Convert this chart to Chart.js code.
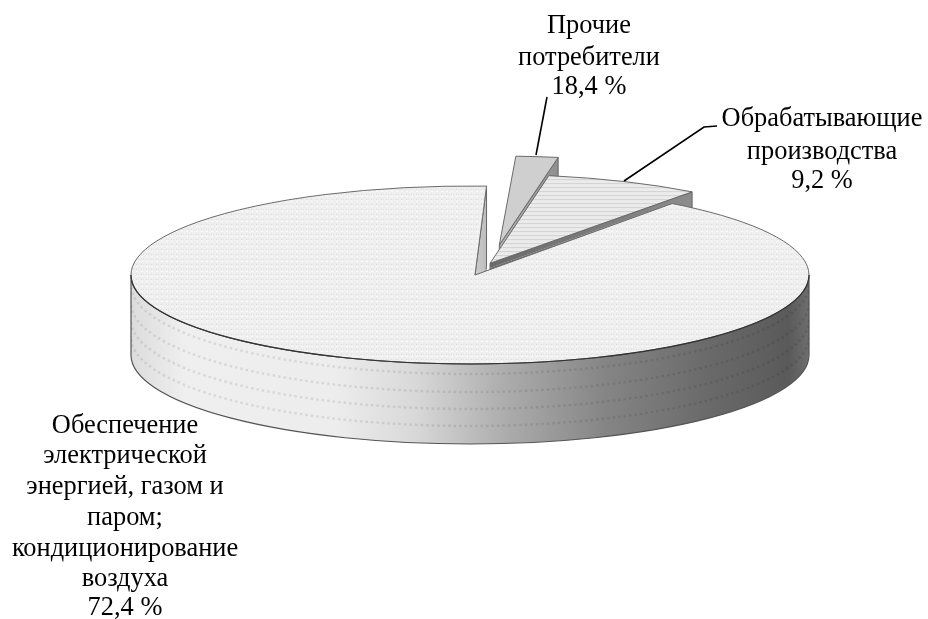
<!DOCTYPE html>
<html><head><meta charset="utf-8">
<style>html,body{margin:0;padding:0;background:#fff}#box{width:928px;height:619px;position:relative}</style>
<script src="https://cdn.jsdelivr.net/npm/chart.js@4"></script>
</head><body><div id="box"><canvas id="c" width="928" height="619"></canvas></div>
<script>
// Category names, and the percentages printed on the reference.
const categories = ['Обеспечение электрической энергией, газом и паром; кондиционирование воздуха', 'Прочие потребители', 'Обрабатывающие производства'];
const printedPercent = [72.4, 18.4, 9.2];
// The reference's wedges are not proportional to its printed numbers,
// so the wedge sizes are read separately off the picture (share of the full circle).
const drawnShare = [90.61, 2.0, 7.39];
const labelLines = [
  ['Обеспечение', 'электрической', 'энергией, газом и', 'паром;', 'кондиционирование', 'воздуха'],
  ['Прочие', 'потребители'],
  ['Обрабатывающие', 'производства']
];

const TILT = 0.2625, DEPTH = 80, RADIUS = 339, FIRST_ANGLE = 36.6, APEX_NUDGE = 5;
const EXPLODE = [[0, 0], [29.3, -114], [20, -44.6]];      // in un-tilted pixels
const PAINT_ORDER = [1, 2, 0];
const LABEL_POS = [
  {x: 125, ys: [426, 456, 487, 518, 549, 579, 608]},
  {x: 589, ys: [26, 58, 87]},
  {x: 822, ys: [119, 152, 181]}
];
const LEADERS = [[[547, 97], [536, 155]], [[717, 126], [704, 127], [624, 181]]];

function tile(w, h, paint) {
  const t = document.createElement('canvas'); t.width = w; t.height = h;
  const g = t.getContext('2d'); paint(g);
  const p = g.createPattern(t, 'repeat');
  p.setTransform(new DOMMatrix().scale(1, 1 / TILT));
  return p;
}
const ctx0 = document.getElementById('c').getContext('2d');
const dotted = tile(5, 5, g => {
  g.fillStyle = '#efefef'; g.fillRect(0, 0, 5, 5);
  g.fillStyle = '#d8d8d8'; g.fillRect(1, 1, 1, 1);
  g.fillStyle = '#e2e2e2'; g.fillRect(3, 1, 1, 1);
  g.fillStyle = '#fcfcfc'; g.fillRect(1, 3, 2, 1);
});
const striped = tile(4, 4, g => {
  g.fillStyle = '#ebebeb'; g.fillRect(0, 0, 4, 4);
  g.fillStyle = '#d2d2d2'; g.fillRect(0, 0, 4, 1);
});

const pseudo3d = {
  id: 'pseudo3d',
  beforeDatasetDraw(chart, args) {
    const ctx = chart.ctx, arcs = chart.getDatasetMeta(args.index).data;
    const wallFill = [
      ['#d2d2d2', '#bdbdbd'], ['#b4b4b4', '#8f8f8f'], ['#6a6a6a', '#8c8c8c']
    ];
    PAINT_ORDER.forEach(i => {
      const el = arcs[i], r = el.outerRadius;
      const nudge = i === 0 ? APEX_NUDGE : 0;
      const cx = el.x + EXPLODE[i][0], cy = el.y + EXPLODE[i][1] * TILT;
      const ex = cx + Math.cos(el.endAngle) * r, ey = cy + Math.sin(el.endAngle) * r * TILT;
      const sx = cx + Math.cos(el.startAngle) * r, sy = cy + Math.sin(el.startAngle) * r * TILT;
      // cut wall along the end edge
      const wg = ctx.createLinearGradient(cx, 0, ex, 0);
      wg.addColorStop(0, wallFill[i][0]); wg.addColorStop(1, wallFill[i][1]);
      ctx.beginPath();
      ctx.moveTo(cx + nudge, cy); ctx.lineTo(ex, ey); ctx.lineTo(ex, ey + DEPTH); ctx.lineTo(cx + nudge, cy + DEPTH); ctx.closePath();
      ctx.fillStyle = wg; ctx.fill();
      ctx.strokeStyle = '#666'; ctx.lineWidth = 1; ctx.stroke();
      // curved outer wall (front half only)
      if (el.endAngle - el.startAngle > Math.PI) {
        const g = ctx.createLinearGradient(cx - r, 0, cx + r, 0);
        [[0, '#dcdcdc'], [0.08, '#efefef'], [0.3, '#ededed'], [0.42, '#d8d8d8'], [0.55, '#adadad'],
         [0.7, '#858585'], [0.85, '#6a6a6a'], [0.97, '#5a5a5a'], [1, '#6e6e6e']].forEach(s => g.addColorStop(s[0], s[1]));
        ctx.beginPath();
        ctx.ellipse(cx, cy, r, r * TILT, 0, 0, Math.PI);
        ctx.lineTo(cx - r, cy + DEPTH);
        ctx.ellipse(cx, cy + DEPTH, r, r * TILT, 0, Math.PI, 0, true);
        ctx.closePath();
        ctx.fillStyle = g; ctx.fill();
        ctx.strokeStyle = '#555'; ctx.lineWidth = 1.2; ctx.stroke();
        ctx.save(); ctx.clip();
        ctx.setLineDash([2.5, 3]); ctx.lineWidth = 2.5; ctx.strokeStyle = 'rgba(0,0,0,0.09)';
        [10, 28, 45, 62].forEach(d => {
          ctx.beginPath(); ctx.ellipse(cx, cy + d, r, r * TILT, 0, 0, Math.PI); ctx.stroke();
        });
        ctx.restore();
      }
      // top face: the library's own arc element, tilted
      ctx.save();
      if (nudge) {
        // keep the thin sliver under the moved apex open, so the wall behind it shows
        ctx.beginPath();
        ctx.rect(0, 0, chart.width, chart.height);
        ctx.moveTo(cx, cy); ctx.lineTo(cx + nudge, cy); ctx.lineTo(sx, sy); ctx.closePath();
        ctx.clip('evenodd');
      }
      ctx.translate(cx, cy); ctx.scale(1, TILT); ctx.translate(-el.x, -el.y);
      el.draw(ctx);
      if (nudge) {
        ctx.beginPath();
        ctx.moveTo(el.x, el.y); ctx.lineTo(el.x + nudge, el.y);
        ctx.lineTo(el.x + Math.cos(el.endAngle) * r, el.y + Math.sin(el.endAngle) * r);
        ctx.closePath();
        ctx.fillStyle = dotted; ctx.fill();
      }
      ctx.restore();
      // outline of the top face
      ctx.beginPath();
      ctx.moveTo(ex, ey);
      ctx.lineTo(cx + nudge, cy);
      ctx.lineTo(sx, sy);
      ctx.ellipse(cx, cy, r, r * TILT, 0, el.startAngle, el.endAngle);
      ctx.strokeStyle = '#6a6a6a'; ctx.lineWidth = 1; ctx.stroke();
      if (i === 0) {
        ctx.beginPath(); ctx.ellipse(cx, cy, r, r * TILT, 0, 0, Math.PI);
        ctx.strokeStyle = '#333'; ctx.lineWidth = 1.2; ctx.stroke();
      }
    });
    return false;
  },
  afterDraw(chart) {
    const ctx = chart.ctx;
    ctx.strokeStyle = '#000'; ctx.lineWidth = 1.6;
    LEADERS.forEach(pts => {
      ctx.beginPath();
      pts.forEach((p, k) => k ? ctx.lineTo(p[0], p[1]) : ctx.moveTo(p[0], p[1]));
      ctx.stroke();
    });
    ctx.fillStyle = '#000'; ctx.font = '26.4px "Liberation Serif"';
    ctx.textAlign = 'center'; ctx.textBaseline = 'middle';
    labelLines.forEach((lines, i) => {
      const all = lines.concat(printedPercent[i].toFixed(1).replace('.', ',') + ' %');
      all.forEach((t, k) => ctx.fillText(t, LABEL_POS[i].x, LABEL_POS[i].ys[k]));
    });
  }
};

new Chart(ctx0, {
  type: 'pie',
  data: {
    labels: categories,
    datasets: [{
      data: drawnShare,
      backgroundColor: [dotted, '#cfcfcf', striped],
      borderWidth: 0
    }]
  },
  options: {
    responsive: false, animation: false,
    rotation: FIRST_ANGLE, radius: RADIUS,
    layout: {padding: {left: 12, right: 0, top: 0, bottom: 69}},
    plugins: {legend: {display: false}, tooltip: {enabled: false}}
  },
  plugins: [pseudo3d]
});
</script></body></html>
